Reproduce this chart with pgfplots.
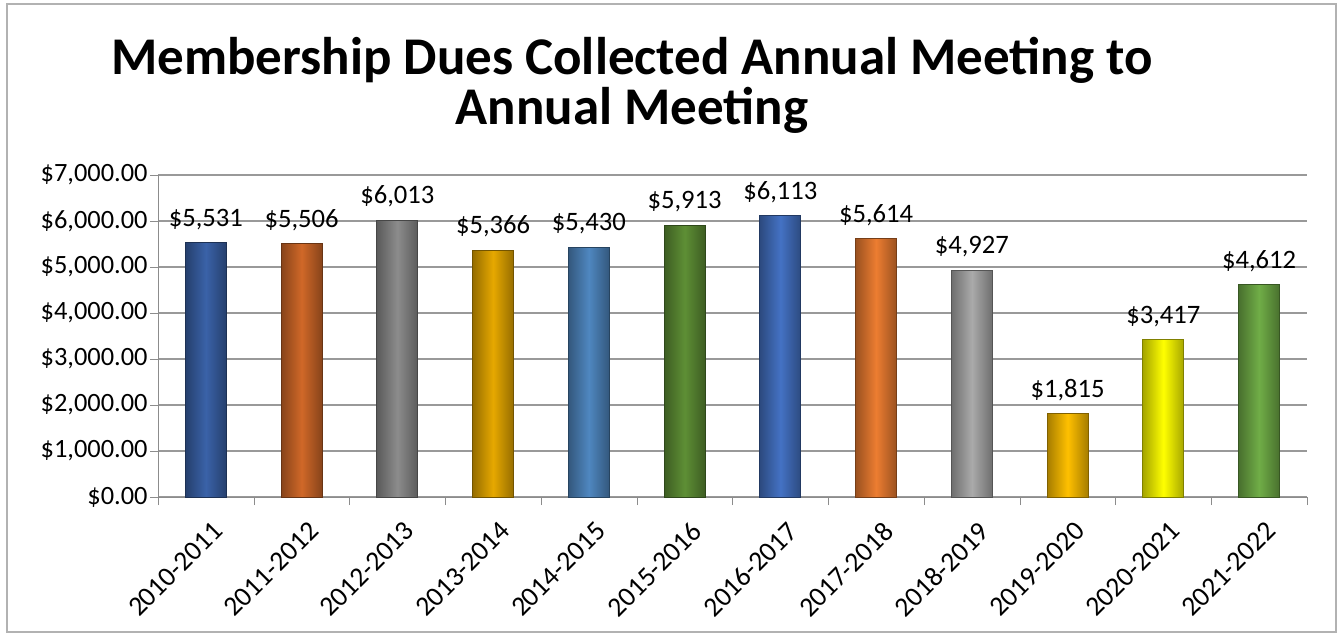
\documentclass[border=0pt]{standalone}
\usepackage{pgfplots}
\pgfplotsset{compat=1.18}
\usepackage{fontspec}
\setmainfont{Carlito}
\definecolor{c1}{RGB}{58,98,168}
\definecolor{c2}{RGB}{208,104,40}
\definecolor{c3}{RGB}{140,140,140}
\definecolor{c4}{RGB}{230,168,0}
\definecolor{c5}{RGB}{79,135,192}
\definecolor{c6}{RGB}{94,143,53}
\definecolor{c7}{RGB}{68,114,196}
\definecolor{c8}{RGB}{237,125,49}
\definecolor{c9}{RGB}{170,170,170}
\definecolor{c10}{RGB}{255,192,0}
\definecolor{c11}{RGB}{255,255,0}
\definecolor{c12}{RGB}{112,173,71}
\begin{document}
\begin{tikzpicture}
\path[use as bounding box] (-79bp,-70bp) rectangle (592.5bp,248.5bp);
\draw[black!30, line width=0.8bp] (-75.5bp,-67.5bp) rectangle (589bp,246.5bp);
\begin{axis}[
  at={(0,0)}, anchor=south west,
  scale only axis, width=574.5bp, height=161bp,
  xmin=-0.5, xmax=11.5, ymin=0, ymax=7000,
  axis lines*=left,
  axis line style={black!45},
  xtick={0,...,11},
  xticklabels={2010-2011,2011-2012,2012-2013,2013-2014,2014-2015,2015-2016,2016-2017,2017-2018,2018-2019,2019-2020,2020-2021,2021-2022},
  minor xtick={-0.5,0.5,...,11.5},
  major tick length=0pt,
  minor tick length=4bp,
  tick align=outside,
  minor tick style={black!45},
  xticklabel style={rotate=45, anchor=north east, font=\fontsize{13.8bp}{15bp}\selectfont, inner sep=1bp, xshift=-5bp, yshift=-9bp},
  ytick={0,1000,...,7000},
  yticklabels={{\$0.00},{\$1,000.00},{\$2,000.00},{\$3,000.00},{\$4,000.00},{\$5,000.00},{\$6,000.00},{\$7,000.00}},
  yticklabel style={font=\fontsize{13.2bp}{15bp}\selectfont, inner sep=1bp, xshift=-4bp},
  extra y ticks={0,1000,...,7000}, extra y tick labels={},
  extra y tick style={major tick length=4bp, tick style={black!45}, grid=none},
  ymajorgrids, grid style={black!40, line width=0.6bp},
  ybar, bar width=20.5bp, bar shift=0pt,
  nodes near coords style={font=\fontsize{13.3bp}{15bp}\selectfont, text=black, yshift=3bp},
  clip=false,
]
\addplot[draw=c1!50!black, left color=c1!65!black, right color=c1!65!black, middle color=c1, nodes near coords={\$5,531}] coordinates {(0,5531)};
\addplot[draw=c2!50!black, left color=c2!65!black, right color=c2!65!black, middle color=c2, nodes near coords={\$5,506}] coordinates {(1,5506)};
\addplot[draw=c3!50!black, left color=c3!65!black, right color=c3!65!black, middle color=c3, nodes near coords={\$6,013}] coordinates {(2,6013)};
\addplot[draw=c4!50!black, left color=c4!65!black, right color=c4!65!black, middle color=c4, nodes near coords={\$5,366}] coordinates {(3,5366)};
\addplot[draw=c5!50!black, left color=c5!65!black, right color=c5!65!black, middle color=c5, nodes near coords={\$5,430}] coordinates {(4,5430)};
\addplot[draw=c6!50!black, left color=c6!65!black, right color=c6!65!black, middle color=c6, nodes near coords={\$5,913}] coordinates {(5,5913)};
\addplot[draw=c7!50!black, left color=c7!65!black, right color=c7!65!black, middle color=c7, nodes near coords={\$6,113}] coordinates {(6,6113)};
\addplot[draw=c8!50!black, left color=c8!65!black, right color=c8!65!black, middle color=c8, nodes near coords={\$5,614}] coordinates {(7,5614)};
\addplot[draw=c9!50!black, left color=c9!65!black, right color=c9!65!black, middle color=c9, nodes near coords={\$4,927}] coordinates {(8,4927)};
\addplot[draw=c10!50!black, left color=c10!65!black, right color=c10!65!black, middle color=c10, nodes near coords={\$1,815}] coordinates {(9,1815)};
\addplot[draw=c11!50!black, left color=c11!65!black, right color=c11!65!black, middle color=c11, nodes near coords={\$3,417}] coordinates {(10,3417)};
\addplot[draw=c12!50!black, left color=c12!65!black, right color=c12!65!black, middle color=c12, nodes near coords={\$4,612}] coordinates {(11,4612)};
\end{axis}
\node[font=\bfseries\fontsize{26.5bp}{25bp}\selectfont, align=center] at (237bp,206bp) {Membership Dues Collected Annual Meeting to\\Annual Meeting};
\end{tikzpicture}
\end{document}
